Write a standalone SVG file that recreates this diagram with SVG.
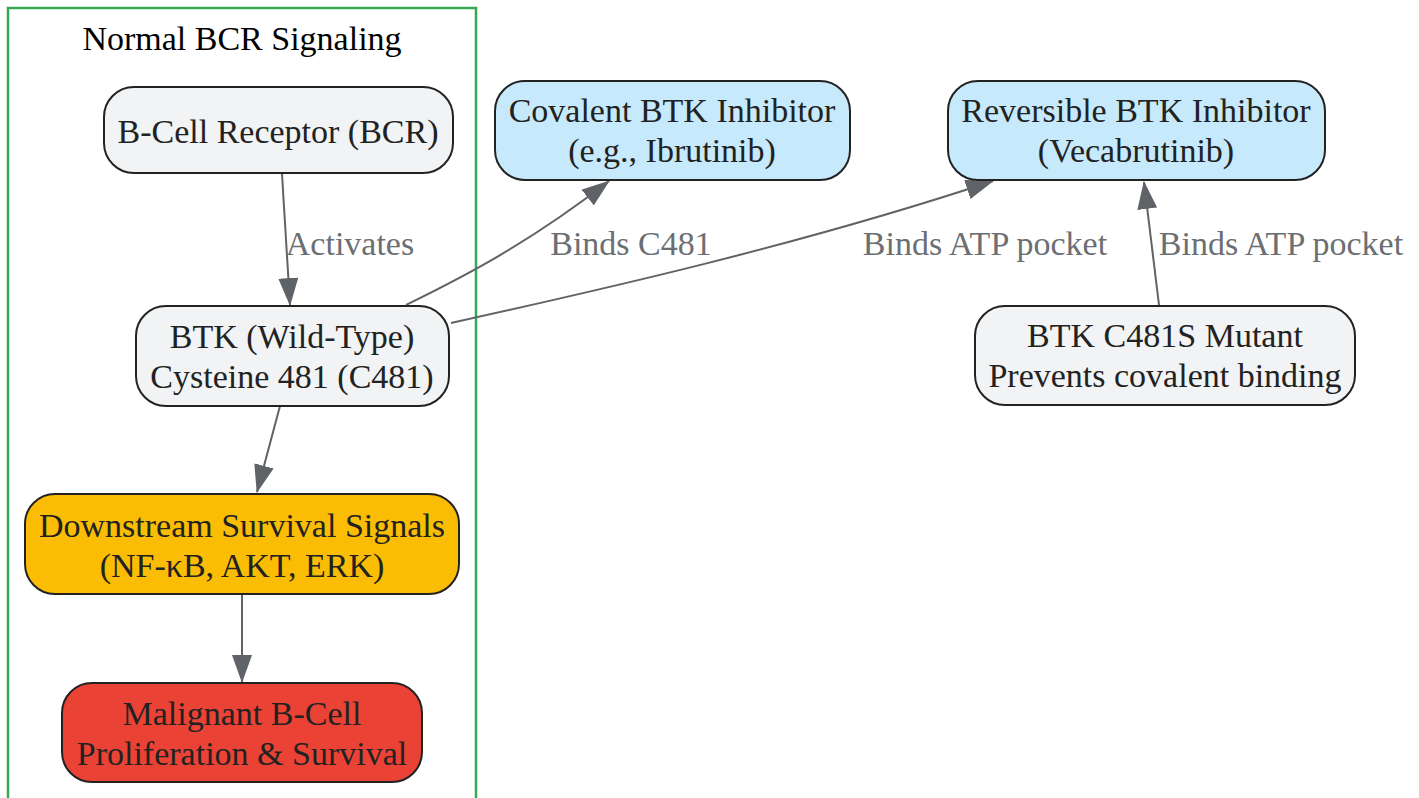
<svg xmlns="http://www.w3.org/2000/svg" width="1419" height="798" viewBox="0 0 1419 798">
<defs>
<style>
.node rect{stroke:#222;stroke-width:2}
.gray rect{fill:#f1f3f4}
.blue rect{fill:#c6e9fc}
.orange rect{fill:#fbbc04}
.red rect{fill:#ea4335}
.node text{font-family:"Liberation Serif","Times New Roman",serif;font-size:34px;fill:#222;text-anchor:middle}
.edge{fill:none;stroke:#5f6368;stroke-width:2;marker-end:url(#arrow)}
.lbl{font-family:"Liberation Serif","Times New Roman",serif;font-size:34px;fill:#6b6f73;text-anchor:middle}
.ctitle{font-family:"Liberation Serif","Times New Roman",serif;font-size:34px;fill:#000;text-anchor:middle}
</style>
<marker id="arrow" markerUnits="userSpaceOnUse" markerWidth="28" markerHeight="20" viewBox="0 0 28 20" refX="27" refY="10" orient="auto">
<path d="M0,0 L28,10 L0,20 z" fill="#5f6368"/>
</marker>
</defs>
<rect width="1419" height="798" fill="#fff"/>
<g id="cluster-normal">
<rect x="8" y="8" width="468" height="800" fill="none" stroke="#34a853" stroke-width="2.5"/>
<text class="ctitle" x="242" y="50">Normal BCR Signaling</text>
</g>
<g id="connectors">
<path class="edge" d="M282,174 L290,305"/>
<path class="edge" d="M406,305 C450,283 520,250 609,181"/>
<path class="edge" d="M451,323 C600,290 800,245 993,181"/>
<path class="edge" d="M1159,305 L1144,182"/>
<path class="edge" d="M280,406 L257,492"/>
<path class="edge" d="M242,594 L242,682"/>
<text class="lbl" x="350" y="255">Activates</text>
<text class="lbl" x="631" y="255">Binds C481</text>
<text class="lbl" x="985" y="255">Binds ATP pocket</text>
<text class="lbl" x="1281" y="255">Binds ATP pocket</text>
</g>
<g id="node-bcr" class="node gray">
<rect x="104" y="87" width="349" height="86" rx="30"/>
<text x="278" y="143">B-Cell Receptor (BCR)</text>
</g>
<g id="node-covalent" class="node blue">
<rect x="495" y="81" width="355" height="99" rx="30"/>
<text x="672" y="122">Covalent BTK Inhibitor</text>
<text x="672" y="162">(e.g., Ibrutinib)</text>
</g>
<g id="node-reversible" class="node blue">
<rect x="948" y="81" width="377" height="99" rx="30"/>
<text x="1136" y="122">Reversible BTK Inhibitor</text>
<text x="1136" y="162">(Vecabrutinib)</text>
</g>
<g id="node-btk" class="node gray">
<rect x="136" y="306" width="313" height="100" rx="30"/>
<text x="292" y="348">BTK (Wild-Type)</text>
<text x="292" y="388">Cysteine 481 (C481)</text>
</g>
<g id="node-mutant" class="node gray">
<rect x="975" y="306" width="380" height="99" rx="30"/>
<text x="1165" y="347">BTK C481S Mutant</text>
<text x="1165" y="387">Prevents covalent binding</text>
</g>
<g id="node-downstream" class="node orange">
<rect x="25" y="494" width="434" height="100" rx="30"/>
<text x="242" y="537">Downstream Survival Signals</text>
<text x="242" y="577">(NF-κB, AKT, ERK)</text>
</g>
<g id="node-malignant" class="node red">
<rect x="62" y="683" width="360" height="99" rx="30"/>
<text x="242" y="725">Malignant B-Cell</text>
<text x="242" y="765">Proliferation &amp; Survival</text>
</g>
</svg>
